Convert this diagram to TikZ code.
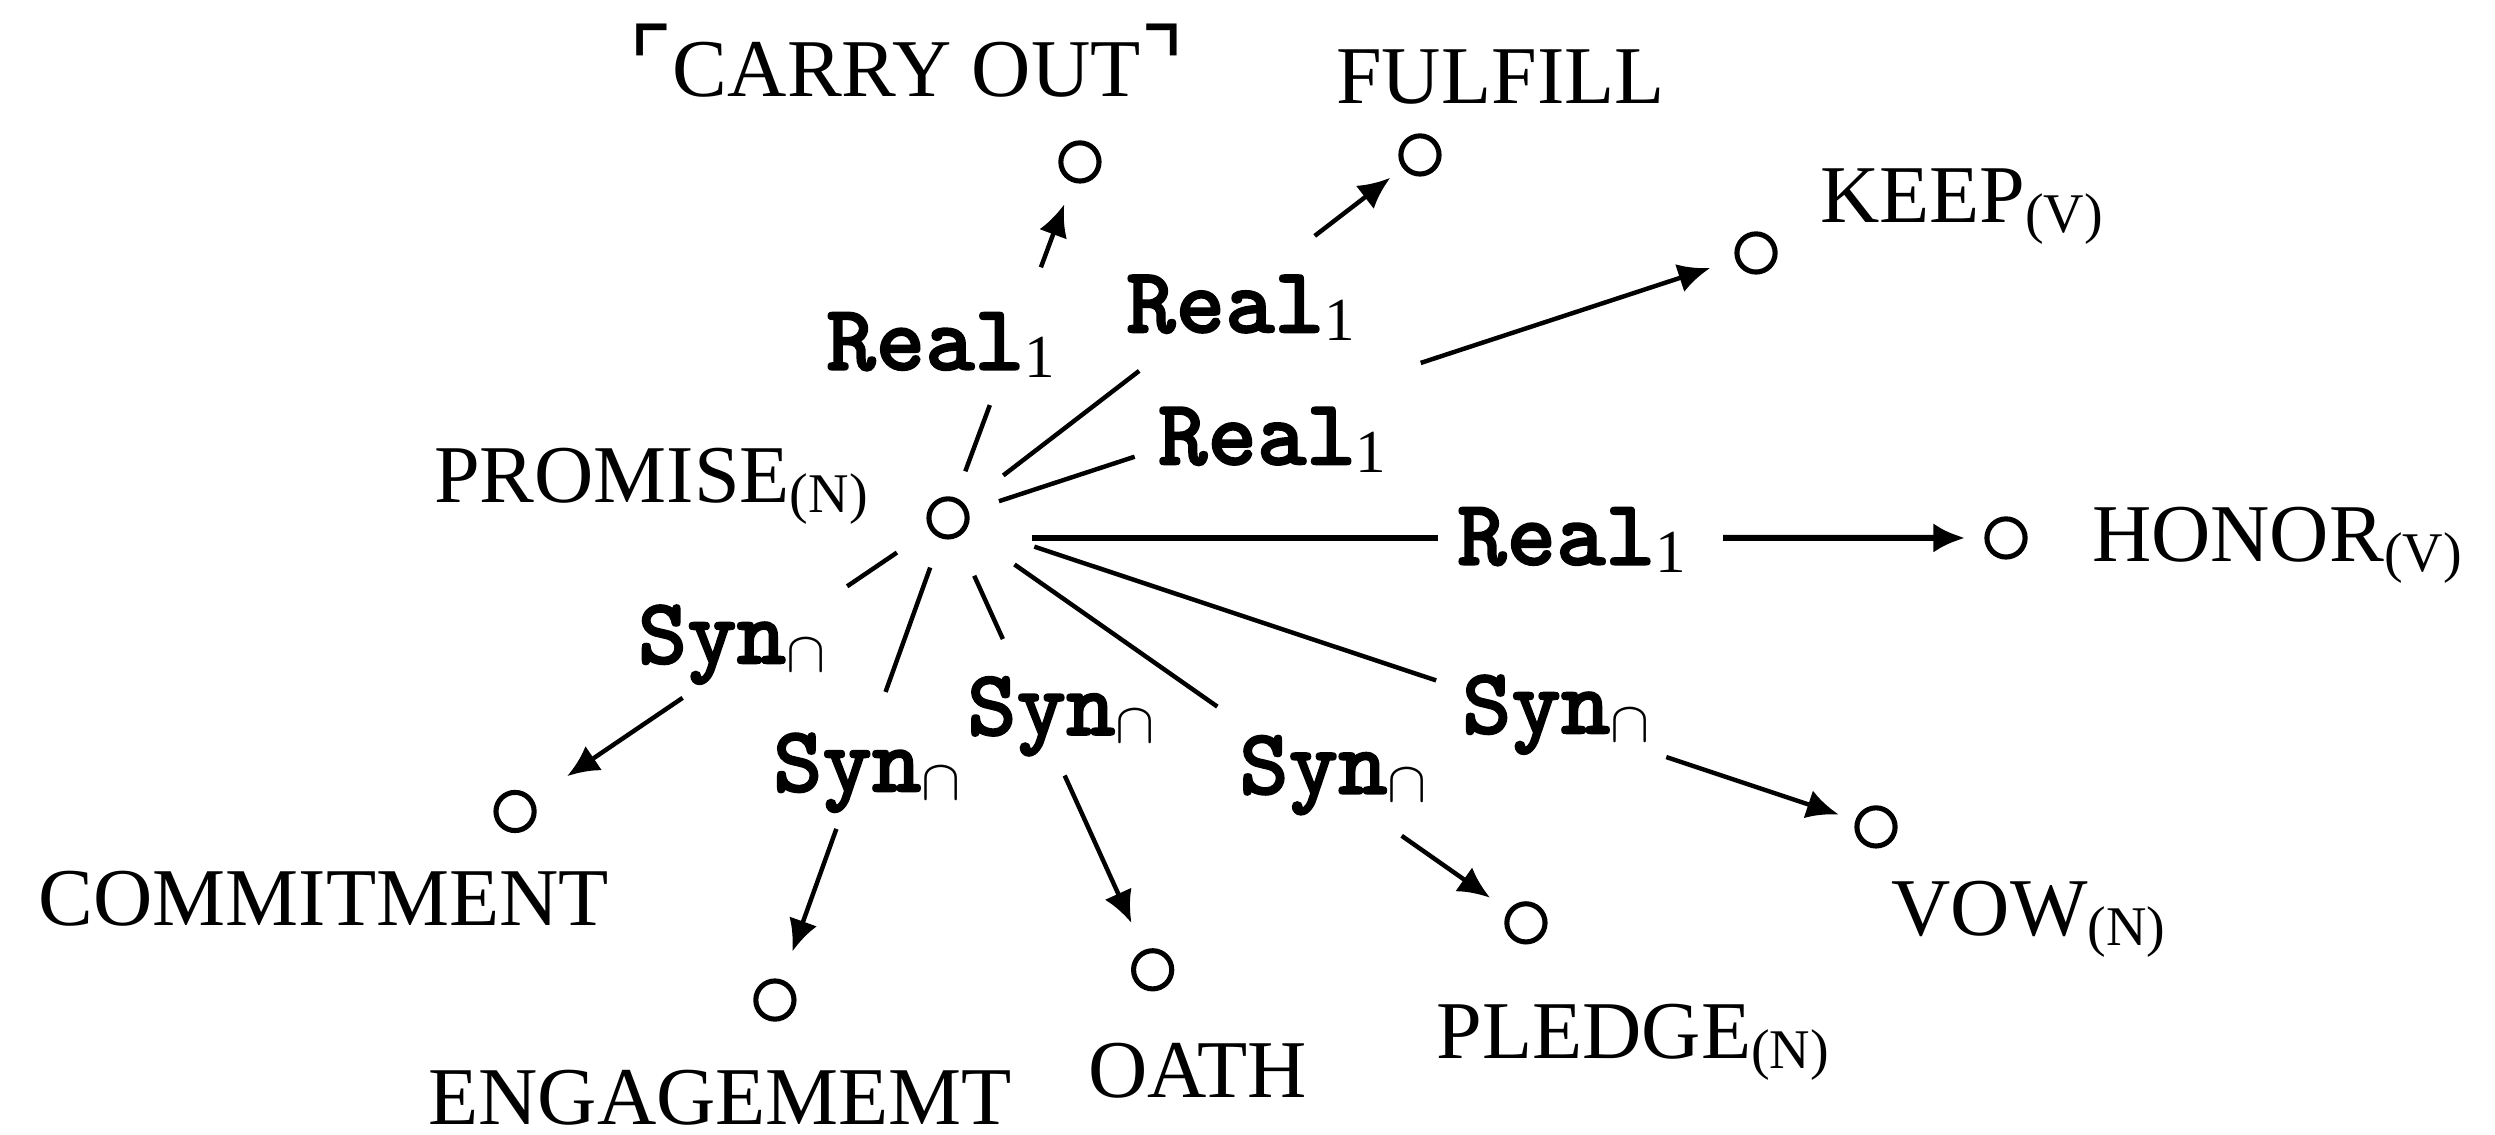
\documentclass[tikz,border=0pt]{standalone}
\usepackage{fontspec}
\setmainfont{Liberation Serif}
\newfontfamily\lftt{lmmonolt10-bold}[Extension=.otf,FakeBold=1.6]
\newfontfamily\cornerfont{DejaVu Sans}
\usepackage{tikz}
\usetikzlibrary{arrows.meta,calc}

\newcommand{\lexsub}[1]{\raisebox{-1.6pt}{\fontsize{8.8}{10}\selectfont #1}}
\newcommand{\realone}{Real\raisebox{-1.2pt}{\rmfamily\fontsize{9.6}{10}\selectfont 1}}
\newcommand{\synsect}{Syn\raisebox{-1.2pt}{\fontsize{9}{10}\selectfont$\cap$}}
\newcommand{\cornerl}{{\cornerfont\fontsize{15}{15}\selectfont ⌜}}
\newcommand{\cornerr}{{\cornerfont\fontsize{15}{15}\selectfont ⌝}}

\begin{document}
\begin{tikzpicture}[x=0.25pt,y=-0.25pt]
  \path[use as bounding box] (0,0) rectangle (1568,713);

  \tikzset{
    lfDot/.style={
      draw=black,
      circle,
      line width=.8pt,
      minimum size=6pt,
      inner sep=0pt
    },
    lfWord/.style={
      anchor=base west,
      inner sep=0pt,
      font=\fontsize{12.9}{14}\selectfont
    },
    lfLabel/.style={
      anchor=base west,
      inner sep=0pt,
      font=\fontsize{14.8}{16}\selectfont\lftt
    },
    lfLine/.style={
      draw=black,
      line width=.7pt
    },
    lfArrow/.style={
      lfLine,
      -{Latex[length=5pt,width=4.6pt]}
    }
  }

  % lexemes
  \node[lfDot] (promise) at (595.8,325.5) {};
  \node[lfDot] (carry) at (678.7,101.8) {};
  \node[lfDot] (fulfill) at (892.4,97.4) {};
  \node[lfDot] (keep) at (1103.6,159) {};
  \node[lfDot] (honor) at (1260.7,338.1) {};
  \node[lfDot] (vow) at (1179,519.7) {};
  \node[lfDot] (pledge) at (959,580) {};
  \node[lfDot] (oath) at (724.4,609.5) {};
  \node[lfDot] (engagement) at (487,628.5) {};
  \node[lfDot] (commitment) at (323.7,510) {};
  \coordinate (honorSrc) at (promise.east |- honor);

  \node[lfWord] (wPromise) at (272,316) {PROMISE\lexsub{(N)}};
  \node[lfWord] (wCarry) at (394,60.5) {\cornerl CARRY OUT\cornerr};
  \node[lfWord] (wFulfill) at (839,65) {FULFILL};
  \node[lfWord] (wKeep) at (1143,140) {KEEP\lexsub{(V)}};
  \node[lfWord] (wHonor) at (1314,353) {HONOR\lexsub{(V)}};
  \node[lfWord] (wVow) at (1188,588) {VOW\lexsub{(N)}};
  \node[lfWord] (wPledge) at (902,665) {PLEDGE\lexsub{(N)}};
  \node[lfWord] (wOath) at (683,689.5) {OATH};
  \node[lfWord] (wEngagement) at (268.4,706.5) {ENGAGEMEMT};
  \node[lfWord] (wCommitment) at (23.5,581.5) {COMMITMENT};

  % lexical functions
  \node[lfLabel] (lCarry) at (518.5,232.5) {\realone};
  \node[lfLabel] (lFulfill) at (707,209) {\realone};
  \node[lfLabel] (lKeep) at (727,292) {\realone};
  \node[lfLabel] (lHonor) at (915,355) {\realone};
  \node[lfLabel] (lCommitment) at (400,417) {\synsect};
  \node[lfLabel] (lEngagement) at (485,497.5) {\synsect};
  \node[lfLabel] (lOath) at (607,462) {\synsect};
  \node[lfLabel] (lPledge) at (778,499) {\synsect};
  \node[lfLabel] (lVow) at (918,461) {\synsect};

  % each link is broken where its label sits
  \foreach \src/\tgt/\a/\b/\c/\g/\w in {
      promise/carry/.131/.317/.704/3.7/.7,
      promise/fulfill/.117/.405/.777/2.5/.7,
      promise/keep/.063/.231/.585/4.2/.7,
      honorSrc/honor/.060/.452/.727/3/.95,
      promise/commitment/.118/.233/.613/6.5/.7,
      promise/engagement/.103/.361/.645/4.7/.7,
      promise/oath/.128/.268/.570/4.7/.7,
      promise/pledge/.115/.466/.785/3.5/.7,
      promise/vow/.093/.526/.774/2.8/.7}{
    \draw[lfLine,line width=\w pt]
      ($(\src)!\a!(\tgt)$) -- ($(\src)!\b!(\tgt)$);
    \draw[lfArrow,line width=\w pt,shorten >=\g pt]
      ($(\src)!\c!(\tgt)$) -- (\tgt);
  }
\end{tikzpicture}
\end{document}
